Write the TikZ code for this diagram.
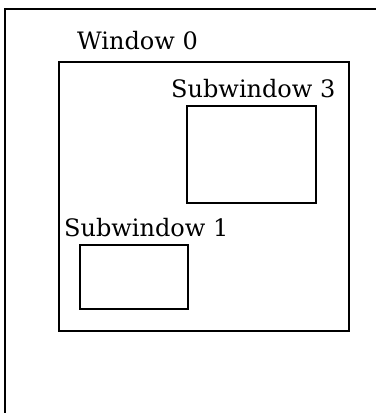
\documentclass[tikz,border=0pt]{standalone}
\usepackage{tikz}
\usetikzlibrary{positioning}
\usepackage{fontspec}
\setmainfont{DejaVu Serif}

\begin{document}
\begin{tikzpicture}[
  x=1pt,y=-1pt,
  winbox/.style={draw,line width=1.2pt,inner sep=0pt,outer sep=0pt},
  winlabel/.style={anchor=base west,inner sep=0pt,font=\fontsize{24}{29}\selectfont}
]
\useasboundingbox (0,0) rectangle (376,413);
% screen frame, cut by the page
\draw[line width=1.4pt] (5,413) -- (5,9) -- (376,9);
\node[winbox,minimum width=290pt,minimum height=269pt] (win0) at (204,196.5) {};
\node[winbox,minimum width=129pt,minimum height=97pt] (sub3) at (251.5,154.5) {};
\node[winbox,minimum width=108pt,minimum height=64pt] (sub1) at (134,277) {};
\node[winlabel] (win0lbl) at (77,49) {Window 0};
\node[winlabel] (sub3lbl) at (171,97) {Subwindow 3};
\node[winlabel] (sub1lbl) at (64,236) {Subwindow 1};
\end{tikzpicture}
\end{document}
